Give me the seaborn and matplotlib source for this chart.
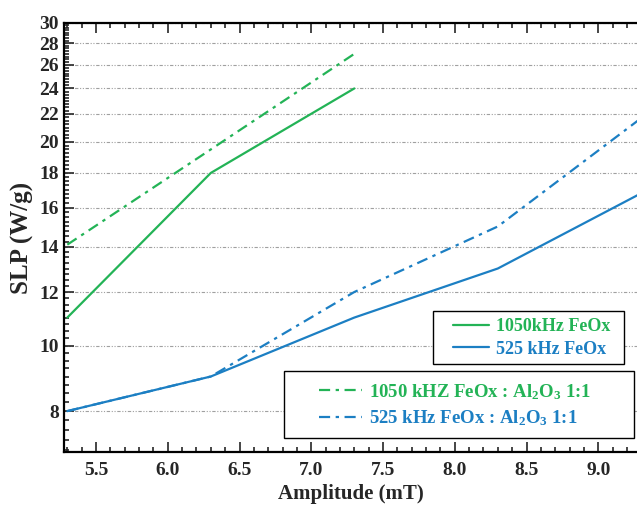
import matplotlib
matplotlib.use("Agg")
import matplotlib.pyplot as plt
import pandas as pd
import seaborn as sns
from matplotlib.patches import Rectangle
from matplotlib.ticker import MultipleLocator, FixedLocator, FixedFormatter, NullFormatter, FormatStrFormatter

# Data
amp_1050 = [5.3, 6.3, 7.3]
slp_1050_feox = [11.0, 18.0, 24.0]
slp_1050_al2o3 = [14.1, 19.5, 27.0]

amp_525 = [5.3, 6.3, 7.3, 8.3, 9.3]
slp_525_feox = [8.0, 9.0, 11.0, 13.0, 16.8]
slp_525_al2o3 = [8.0, 9.0, 12.0, 15.0, 21.7]

labels = ["1050kHz FeOx", "525 kHz FeOx",
          "1050 kHZ FeOx : Al$_2$O$_3$ 1:1", "525 kHz FeOx : Al$_2$O$_3$ 1:1"]
y_ticks = [8, 10, 12, 14, 16, 18, 20, 22, 24, 26, 28, 30]

green = "#23b356"
blue = "#1c7fc3"

sns.set_theme(style="ticks")
plt.rcParams["font.family"] = ["Liberation Serif", "DejaVu Serif"]
plt.rcParams["font.weight"] = "bold"
plt.rcParams["mathtext.fontset"] = "custom"
plt.rcParams["mathtext.rm"] = "Liberation Serif:bold"
plt.rcParams["mathtext.it"] = "Liberation Serif:bold"
plt.rcParams["mathtext.bf"] = "Liberation Serif:bold"

df = pd.concat([
    pd.DataFrame({"amp": amp_1050, "slp": slp_1050_feox, "series": labels[0]}),
    pd.DataFrame({"amp": amp_525, "slp": slp_525_feox, "series": labels[1]}),
    pd.DataFrame({"amp": amp_1050, "slp": slp_1050_al2o3, "series": labels[2]}),
    pd.DataFrame({"amp": amp_525, "slp": slp_525_al2o3, "series": labels[3]}),
], ignore_index=True)

fig = plt.figure(figsize=(6.37, 5.09), dpi=100)
ax = fig.add_axes([0.1005, 0.112, 0.8995, 0.843])

dashdot = (0, (5, 2.5, 1.5, 2.5))
styles = {labels[0]: (green, "-"), labels[1]: (blue, "-"),
          labels[2]: (green, dashdot), labels[3]: (blue, dashdot)}
lines = {}
for name, (col, ls) in styles.items():
    sub = df[df.series == name]
    sns.lineplot(data=sub, x="amp", y="slp", ax=ax, color=col, linewidth=1.6,
                 linestyle=ls, label=name, legend=False)
    lines[name] = ax.lines[-1]

ax.set_yscale("log")
ax.set_xlim(5.277, 9.27)
ax.set_ylim(6.96, 30)
ax.yaxis.set_major_locator(FixedLocator(y_ticks))
ax.yaxis.set_major_formatter(FixedFormatter([str(t) for t in y_ticks]))
ax.yaxis.set_minor_locator(MultipleLocator(0.25))
ax.yaxis.set_minor_formatter(NullFormatter())
ax.xaxis.set_major_locator(MultipleLocator(0.5))
ax.xaxis.set_minor_locator(MultipleLocator(0.1))
ax.xaxis.set_major_formatter(FormatStrFormatter("%.1f"))

ax.tick_params(axis="both", which="both", direction="in", top=True, right=False,
               labelsize=14, width=1.2)
ax.tick_params(axis="both", which="major", length=7)
ax.tick_params(axis="both", which="minor", length=3.5)
ax.tick_params(axis="x", which="major", pad=7)
for lab in ax.get_xticklabels() + ax.get_yticklabels():
    lab.set_fontweight("bold")

ax.grid(axis="y", which="major", color="#a0a0a0", linewidth=0.8,
        linestyle=(0, (3, 1.5, 1, 1.5, 1, 1.5)))
for side in ["left", "bottom", "top"]:
    ax.spines[side].set_linewidth(1.6)
    ax.spines[side].set_color("black")
ax.spines["right"].set_visible(False)

ax.set_xlabel("Amplitude (mT)", fontsize=15, fontweight="bold", labelpad=4)
ax.set_ylabel("SLP (W/g)", fontsize=18, fontweight="bold", labelpad=4)


def px(x, y):
    return (x / 637, 1 - y / 509)


def legend_box(x0, y0, x1, y1):
    fx0, fy1 = px(x0, y0)
    fx1, fy0 = px(x1, y1)
    fig.patches.append(Rectangle((fx0, fy0), fx1 - fx0, fy1 - fy0, transform=fig.transFigure,
                                 facecolor="white", edgecolor="black", linewidth=1.0, zorder=5))


legend_box(433, 311, 624, 364)
leg1 = fig.legend(handles=[lines[labels[0]], lines[labels[1]]], labels=labels[:2],
                  loc="center", bbox_to_anchor=px(531.5, 338), fontsize=13,
                  frameon=False, handlelength=2.0, handletextpad=0.4,
                  borderpad=0, borderaxespad=0, labelspacing=0.3)
for txt, col in zip(leg1.get_texts(), [green, blue]):
    txt.set_color(col)
    txt.set_fontweight("bold")

legend_box(284, 371, 634, 438)
leg2 = fig.legend(handles=[lines[labels[2]], lines[labels[3]]], labels=labels[2:],
                  loc="center", bbox_to_anchor=px(455, 405), fontsize=13.5,
                  frameon=False, handlelength=2.3, handletextpad=0.4,
                  borderpad=0, borderaxespad=0, labelspacing=0.35)
for txt, col in zip(leg2.get_texts(), [green, blue]):
    txt.set_color(col)
    txt.set_fontweight("bold")

fig.savefig("out.png", dpi=100)
